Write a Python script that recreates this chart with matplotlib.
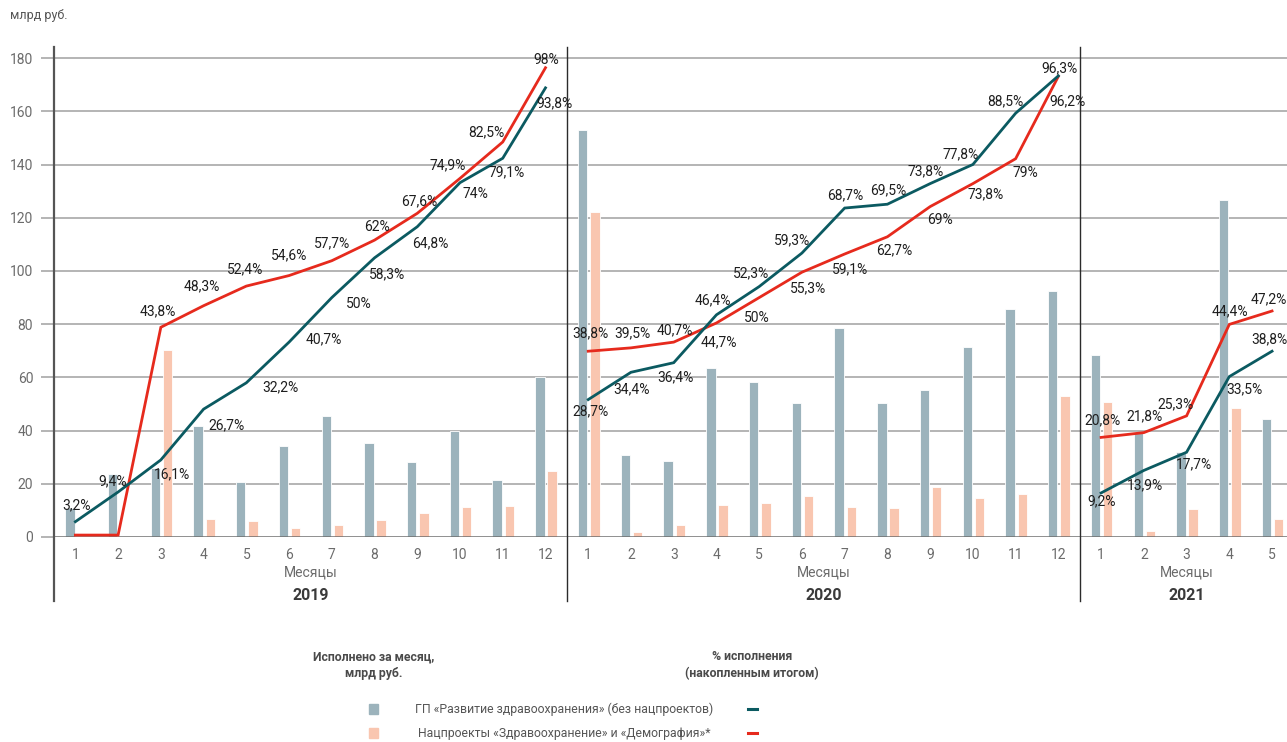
import numpy as np
import matplotlib
matplotlib.use('Agg')
import matplotlib.pyplot as plt
from matplotlib import font_manager

plt.rcParams['font.family'] = ['Roboto', 'DejaVu Sans']

# Narrow font for the legend block, if present
legend_font = ['Roboto']
legend_size = 8.8
for name in ['Liberation Sans Narrow']:
    try:
        font_manager.findfont(name, fallback_to_default=False)
        legend_font = [name, 'Roboto']
        legend_size = 10.5
        break
    except Exception:
        pass

years = ['2019', '2020', '2021']
months_2019 = list(range(1, 13))
months_2020 = list(range(1, 13))
months_2021 = list(range(1, 6))

# Monthly execution, bn rub
gp_2019 = [11.0, 23.6, 26.0, 41.8, 20.7, 34.2, 45.4, 35.2, 28.1, 39.8, 21.4, 60.2]
np_2019 = [0.0, 0.0, 70.3, 6.8, 6.0, 3.4, 4.5, 6.5, 8.9, 11.4, 11.7, 24.7]
gp_2020 = [153.0, 30.7, 28.5, 63.5, 58.3, 50.5, 78.7, 50.3, 55.3, 71.5, 85.6, 92.5]
np_2020 = [122.2, 2.0, 4.5, 12.0, 12.7, 15.4, 11.2, 10.9, 18.9, 14.7, 16.3, 52.9]
gp_2021 = [68.4, 39.0, 32.1, 126.6, 44.2]
np_2021 = [50.9, 2.3, 10.5, 48.6, 6.8]

# Cumulative execution, %
gp_pct_2019 = [3.2, 9.4, 16.1, 26.7, 32.2, 40.7, 50, 58.3, 64.8, 74, 79.1, 93.8]
np_pct_2019 = [0.4, 0.4, 43.8, 48.3, 52.4, 54.6, 57.7, 62, 67.6, 74.9, 82.5, 98]
gp_pct_2020 = [28.7, 34.4, 36.4, 46.4, 52.3, 59.3, 68.7, 69.5, 73.8, 77.8, 88.5, 96.3]
np_pct_2020 = [38.8, 39.5, 40.7, 44.7, 50, 55.3, 59.1, 62.7, 69, 73.8, 79, 96.2]
gp_pct_2021 = [9.2, 13.9, 17.7, 33.5, 38.8]
np_pct_2021 = [20.8, 21.8, 25.3, 44.4, 47.2]

# label offsets in pixels (dx, dy), dy positive = up
gp_off_2019 = [(1, 16), (-5, 11), (11, -14), (23, -16), (34, -4), (35, 3), (27, -6),
               (13, -16), (13, -17), (15, -11), (4, -14), (9, -15)]
np_off_2019 = [None, None, (-3, 16), (-2, 19), (-1, 17), (0, 20), (0, 17), (2, 13),
               (2, 12), (-12, 13), (-16, 10), (1, 8)]
gp_off_2020 = [(2, -12), (1, -17), (1.5, -15), (-4, 15), (-8, 13), (-10, 13), (1, 13),
               (1, 13.5), (-4.5, 12), (-12, 10), (-10, 12), (1, 8)]
np_off_2020 = [(2, 18), (1, 15), (1.5, 12), (2, -19), (-2, -20), (6, -16), (5, -15),
               (7, -14), (10, -13), (13, -11), (10, -14), (9, -25)]
gp_off_2021 = [(1, -8), (1, -15), (7, -12), (15, -13), (-3, 12)]
np_off_2021 = [(1, 17), (1, 16), (-11, 12), (1, 13), (-3, 12)]

C_GP_BAR = '#9cb3bc'
C_NP_BAR = '#f9c6b0'
C_GP_LINE = '#0b5a61'
C_NP_LINE = '#e62a1d'
C_GRID = '#b4b4b4'
C_TICK = '#6b6b6b'

fig = plt.figure(figsize=(12.87, 7.42), dpi=100)
W, H = 1287, 742
ax = fig.add_axes([54 / W, 1 - 537 / H, 1 - 54 / W, 490 / H])
ax2 = ax.twinx()

YTOP = 184.2
ax.set_ylim(0, YTOP)
ax2.set_ylim(0, YTOP / 1.8)
ax.set_xlim(-0.5, 28.35)
ax2.set_xlim(-0.5, 28.35)

groups = [
    (0, months_2019, gp_2019, np_2019, gp_pct_2019, np_pct_2019, gp_off_2019, np_off_2019),
    (12, months_2020, gp_2020, np_2020, gp_pct_2020, np_pct_2020, gp_off_2020, np_off_2020),
    (24, months_2021, gp_2021, np_2021, gp_pct_2021, np_pct_2021, gp_off_2021, np_off_2021),
]

bw = 0.22
tick_pos = []
tick_lab = []
for start, months, gp, npj, gp_pct, np_pct, gp_off, np_off in groups:
    x = start + np.arange(len(months))
    tick_pos += list(x)
    tick_lab += [str(m) for m in months]
    ax.bar(x - 0.13, gp, width=bw, color=C_GP_BAR, edgecolor='white', linewidth=0.6, zorder=2)
    ax.bar(x + 0.155, npj, width=bw, color=C_NP_BAR, edgecolor='white', linewidth=0.6, zorder=2)
    ax2.plot(x, np_pct, color=C_NP_LINE, lw=2.0, zorder=3, solid_joinstyle='miter')
    ax2.plot(x, gp_pct, color=C_GP_LINE, lw=2.0, zorder=3, solid_joinstyle='miter')
    for xi, v, off in zip(x, gp_pct, gp_off):
        ax2.annotate(f'{v:g}%'.replace('.', ','), (xi, v), xytext=(off[0] * 0.72, off[1] * 0.72),
                     textcoords='offset points', ha='center', va='center',
                     fontsize=10, color='#1e1e1e', zorder=5, annotation_clip=False)
    for xi, v, off in zip(x, np_pct, np_off):
        if off is None:
            continue
        ax2.annotate(f'{v:g}%'.replace('.', ','), (xi, v), xytext=(off[0] * 0.72, off[1] * 0.72),
                     textcoords='offset points', ha='center', va='center',
                     fontsize=10, color='#1e1e1e', zorder=5, annotation_clip=False)

ax.set_zorder(1)
ax2.set_zorder(2)
ax.patch.set_visible(False)

# grid and axes
ax.set_yticks(range(0, 181, 20))
ax.set_yticklabels([str(v) for v in range(0, 181, 20)])
for v in range(20, 181, 20):
    ax.axhline(v, color=C_GRID, lw=1.4, zorder=1)
ax.axhline(0, color='#6e6e6e', lw=1.8, zorder=4)
ax.tick_params(axis='y', length=9.5, width=1.4, color=C_GRID, pad=5.5,
               labelsize=10, labelcolor=C_TICK)
ax.set_xticks(tick_pos)
ax.set_xticklabels(tick_lab)
ax.tick_params(axis='x', length=0, pad=8, labelsize=10, labelcolor=C_TICK)
ax2.set_yticks([])
for a in (ax, ax2):
    for s in a.spines.values():
        s.set_visible(False)

# vertical dividers
trans = ax.get_xaxis_transform()
for xv, col, lw in [(-0.5, '#555555', 1.6), (11.5, '#2b2b2b', 1.0), (23.5, '#2b2b2b', 1.0)]:
    ax.plot([xv, xv], [-0.13, 1.0], transform=trans, color=col, lw=lw, clip_on=False, zorder=6)

centers = [5.5, 17.5, 26.0]
for c, yr in zip(centers, years):
    ax.text(c, -0.072, 'Месяцы', transform=trans, ha='center', va='center',
            fontsize=10, color=C_TICK)
    ax.text(c, -0.12, yr, transform=trans, ha='center', va='center',
            fontsize=11.5, fontweight='bold', color='#3a3a3a')

fig.text(10 / W, 1 - 16 / H, 'млрд руб.', ha='left', va='center', fontsize=9, color='#555555')

# legend block
lc = '#4a4a4a'
fig.text(374 / W, 1 - 657 / H, 'Исполнено за месяц,', ha='center', va='center',
         fontsize=legend_size, fontweight='bold', color=lc, family=legend_font)
fig.text(374 / W, 1 - 674 / H, 'млрд руб.', ha='center', va='center',
         fontsize=legend_size, fontweight='bold', color=lc, family=legend_font)
fig.text(752 / W, 1 - 657 / H, '% исполнения', ha='center', va='center',
         fontsize=legend_size, fontweight='bold', color=lc, family=legend_font)
fig.text(752 / W, 1 - 674 / H, '(накопленным итогом)', ha='center', va='center',
         fontsize=legend_size, fontweight='bold', color=lc, family=legend_font)

leg_items = [
    (709, C_GP_BAR, C_GP_LINE, 'ГП «Развитие здравоохранения» (без нацпроектов)'),
    (733, C_NP_BAR, C_NP_LINE, 'Нацпроекты «Здравоохранение» и «Демография»*'),
]
for yp, bc, lcol, label in leg_items:
    fig.patches.append(plt.Rectangle(((369) / W, 1 - (yp + 5) / H), 9 / W, 10 / H,
                                     transform=fig.transFigure, color=bc))
    fig.text(564 / W, 1 - yp / H, label, ha='center', va='center',
             fontsize=legend_size, color='#555555', family=legend_font)
    fig.lines.append(plt.Line2D([748 / W, 757 / W], [1 - yp / H, 1 - yp / H],
                                transform=fig.transFigure, color=lcol, lw=2.2))

fig.savefig('out.png', dpi=100)
